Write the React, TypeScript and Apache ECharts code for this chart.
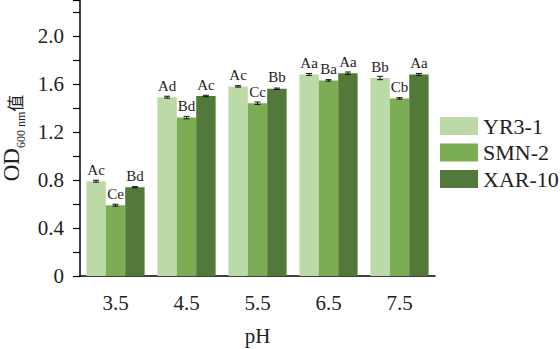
import React, { useEffect, useRef } from "react";
import * as echarts from "echarts";

const categories = ["3.5", "4.5", "5.5", "6.5", "7.5"];
const seriesNames = ["YR3-1", "SMN-2", "XAR-10"];
const yr31 = [0.79, 1.49, 1.58, 1.68, 1.65];
const smn2 = [0.59, 1.32, 1.44, 1.63, 1.48];
const xar10 = [0.74, 1.5, 1.56, 1.69, 1.68];
const yr31Err = [0.008, 0.008, 0.006, 0.008, 0.014];
const smn2Err = [0.008, 0.01, 0.01, 0.006, 0.006];
const xar10Err = [0.005, 0.006, 0.006, 0.01, 0.008];
const yr31Letters = ["Ac", "Ad", "Ac", "Aa", "Bb"];
const smn2Letters = ["Ce", "Bd", "Cc", "Ba", "Cb"];
const xar10Letters = ["Bd", "Ac", "Bb", "Aa", "Aa"];
const colors = ["#bcd9a8", "#7cad55", "#53793a"];

const FONT = "'Liberation Serif', 'Times New Roman', serif";
const GAP = 0.18;

export default function App() {
  const ref = useRef<HTMLDivElement>(null);
  useEffect(() => {
    if (!ref.current) return;
    const chart = echarts.init(ref.current, null, { renderer: "svg" });
    const values = [yr31, smn2, xar10];
    const errs = [yr31Err, smn2Err, xar10Err];
    const letters = [yr31Letters, smn2Letters, xar10Letters];

    const barSeries = values.map((vals, si) => ({
      type: "bar",
      name: seriesNames[si],
      xAxisIndex: 0,
      data: vals,
      barCategoryGap: GAP * 100 + "%",
      barGap: "0%",
      itemStyle: { color: colors[si] },
      label: {
        show: true,
        position: "top",
        distance: 4,
        color: "#222",
        fontFamily: FONT,
        fontSize: 15,
        formatter: (p: any) => letters[si][p.dataIndex],
      },
      z: 2,
    }));

    const errSeries = values.map((vals, si) => ({
      type: "custom",
      name: seriesNames[si] + "-err",
      xAxisIndex: 0,
      z: 5,
      silent: true,
      data: vals.map((v, i) => [i, v - errs[si][i], v + errs[si][i]]),
      renderItem: (params: any, api: any) => {
        const cat = api.value(0);
        const lo = api.coord([cat, api.value(1)]);
        const hi = api.coord([cat, api.value(2)]);
        const band = api.size([1, 0])[0];
        const bw = (band * (1 - GAP)) / 3;
        const x = lo[0] + (si - 1) * bw;
        const hw = 3;
        const st = { stroke: "#111", lineWidth: 1 };
        return {
          type: "group",
          children: [
            { type: "line", shape: { x1: x, y1: lo[1], x2: x, y2: hi[1] }, style: st },
            { type: "line", shape: { x1: x - hw, y1: lo[1], x2: x + hw, y2: lo[1] }, style: st },
            { type: "line", shape: { x1: x - hw, y1: hi[1], x2: x + hw, y2: hi[1] }, style: st },
          ],
        };
      },
    }));

    chart.setOption({
      animation: false,
      grid: { left: 80, right: 125, top: 0, bottom: 73, containLabel: false, outerBoundsMode: "none" },
      legend: {
        data: seriesNames,
        orient: "vertical",
        left: 435,
        top: 110,
        itemWidth: 38,
        itemHeight: 18,
        itemGap: 4.5,
        icon: "rect",
        textStyle: { fontFamily: FONT, fontSize: 22, color: "#222", lineHeight: 18 },
      },
      xAxis: [
        {
          type: "category",
          data: categories,
          name: "pH",
          nameLocation: "middle",
          nameGap: 49,
          nameTextStyle: { fontFamily: FONT, fontSize: 21, color: "#222" },
          axisLine: { lineStyle: { color: "#000", width: 1.5 } },
          axisTick: { alignWithLabel: true, length: 7, lineStyle: { color: "#000", width: 1.2 } },
          axisLabel: { fontFamily: FONT, fontSize: 21, color: "#222", margin: 16 },
        },
        {
          type: "category",
          data: categories,
          position: "bottom",
          axisLine: { show: false },
          axisTick: { length: 3, lineStyle: { color: "#000", width: 1 } },
          axisLabel: { show: false },
        },
      ],
      yAxis: {
        type: "value",
        min: 0,
        max: 2.3,
        interval: 0.2,
        name: "{a|OD}{b|600 nm}{c|值}",
        nameLocation: "middle",
        nameGap: 56,
        nameRotate: 90,
        nameTextStyle: {
          rich: {
            a: { fontFamily: FONT, fontSize: 23, color: "#222", verticalAlign: "bottom", lineHeight: 24 },
            b: { fontFamily: FONT, fontSize: 12, color: "#222", verticalAlign: "bottom", lineHeight: 16, padding: [0, 0, -4, 0] },
            c: { fontFamily: "'Noto Sans CJK SC', sans-serif", fontSize: 17, color: "#222", verticalAlign: "bottom", lineHeight: 22 },
          },
        },
        splitLine: { show: false },
        axisLine: { show: true, lineStyle: { color: "#000", width: 1.5 } },
        axisTick: { show: true, length: 7, lineStyle: { color: "#000", width: 1.2 } },
        axisLabel: {
          fontFamily: FONT,
          fontSize: 21,
          color: "#222",
          margin: 16,
          formatter: (v: number) => {
            const k = Math.round(v / 0.2);
            if (k % 2 !== 0) return "";
            return k === 0 ? "0" : v.toFixed(1);
          },
        },
      },
      series: [...barSeries, ...errSeries],
    });
    return () => chart.dispose();
  }, []);
  return <div ref={ref} style={{ width: 560, height: 349, position: "absolute", left: 0, top: 0 }} />;
}
